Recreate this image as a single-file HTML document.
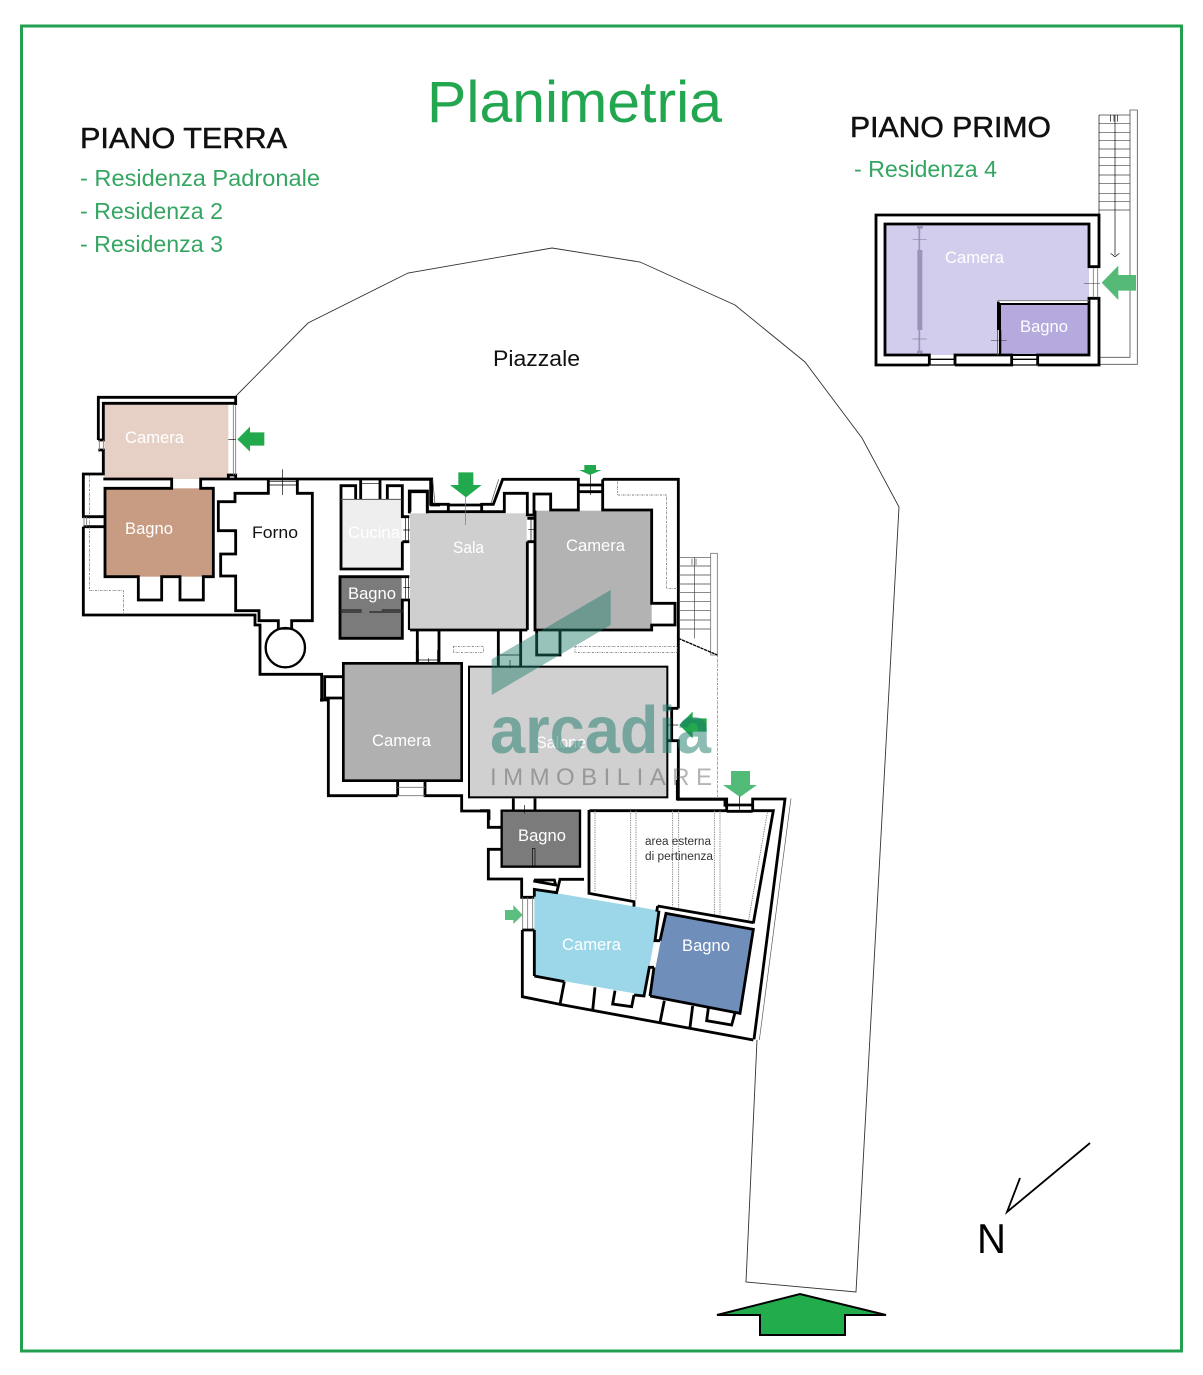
<!DOCTYPE html>
<html><head><meta charset="utf-8"><style>
html,body{margin:0;padding:0;background:#fff}
svg{display:block}
text{font-family:"Liberation Sans",sans-serif}
.w{fill:none;stroke:#000;stroke-width:8.500;stroke-linejoin:miter}
.g{fill:none;stroke:#777;stroke-width:2.5}
.k{fill:none;stroke:#000;stroke-width:2}
.d{fill:none;stroke:#555;stroke-width:2;stroke-dasharray:6 3 2 3}
.l{fill:#fff;font-size:17px}
</style></head><body>
<svg width="1203" height="1375" viewBox="0 0 1203 1375" xmlns="http://www.w3.org/2000/svg">
<rect width="1203" height="1375" fill="#fff"/>
<rect x="21.500" y="26" width="1160" height="1325" fill="none" stroke="#22a04f" stroke-width="3"/>

<text x="427" y="122" font-size="58" fill="#22a650" textLength="295" lengthAdjust="spacingAndGlyphs">Planimetria</text>
<text x="80" y="148" font-size="29" fill="#111" stroke="#111" stroke-width=".5" textLength="207" lengthAdjust="spacingAndGlyphs">PIANO TERRA</text>
<text x="850" y="137" font-size="29" fill="#111" stroke="#111" stroke-width=".5" textLength="201" lengthAdjust="spacingAndGlyphs">PIANO PRIMO</text>
<g fill="#35a562" font-size="23">
<text x="80" y="186" textLength="240" lengthAdjust="spacingAndGlyphs">- Residenza Padronale</text>
<text x="80" y="219" textLength="143" lengthAdjust="spacingAndGlyphs">- Residenza 2</text>
<text x="80" y="252" textLength="143" lengthAdjust="spacingAndGlyphs">- Residenza 3</text>
<text x="854" y="177" textLength="143" lengthAdjust="spacingAndGlyphs">- Residenza 4</text>
</g>
<text x="493" y="366" font-size="22" fill="#111" textLength="87" lengthAdjust="spacingAndGlyphs">Piazzale</text>

<!-- site outline -->
<path d="M235,397 L308,323 L408,273 L552,248 L640,262 L735,305 L805,362 L862,438 L899,507 L856,1292 L746,1282 L757,1040" fill="none" stroke="#333" stroke-width=".9"/>

<!-- west wing -->
<g transform="translate(70 380) scale(.33333)">
<rect x="103" y="70" width="372" height="227" fill="#e6d0c5"/>
<rect x="105" y="325" width="325" height="265" fill="#c89c82"/>
<rect x="813" y="358" width="182" height="209" fill="#eeeeee"/>
<rect x="812" y="593" width="183" height="180" fill="#7b7b7b"/>
<path class="w" d="M85,180 V52 H497 V75 M85,180 H100 V70 H497"/>
<path class="w" d="M85,210 H100 V282 H40 V410 H105 M40,440 H105 M40,440 V705 H555 V735 H570 V883 H755 V965"/>
<path class="w" d="M100,297 H305 V325 H105 V590 H205 V660 H275 V590 H330 V660 H400 V590 H430 V325 H392 V297 H1085 V375 H1110 M595,297 V340 H495 V365 H445 V452 H497 V522 H452 V588 H497 V692 H567 V722 H625 V748 M665,748 V722 H727 V340 H682 V297"/>
<path class="w" d="M475,297 V285 H497 V297"/>
<circle cx="646" cy="803" r="59" fill="#fff" stroke="#000" stroke-width="7"/>
<path class="k" d="M625,748 H665"/>
<path class="g" d="M490,75 V285 M497,75 V285 M88,180 V210 M100,180 V210 M42,410 V440 M50,410 V440"/>
<path class="k" d="M475,178 H497 M637,268 V345 M595,305 H682 M595,315 H682"/>
<path class="d" d="M58,285 V632 H160 V700"/>
<!-- kitchen / bath -->
<path class="w" d="M813,358 V317 H857 V357 M872,357 V300 M930,357 V300 M952,357 V317 H997 V410 H1018 M997,485 H1018 M997,485 V567 H813 V358"/>
<path d="M813,358 H995" stroke="#555" stroke-width="3"/>
<path class="k" d="M872,310 H930"/>
<path class="w" d="M1018,400 V333 H1072 V400"/>
<path class="w" d="M997,590 H810 V775 H997 V660 H1018 V750 M1018,590 H997"/>
<path d="M810,690 H875 M810,696 H875 M898,696 H1000 M935,690 H1000" fill="none" stroke="#222" stroke-width="4"/>
<path class="k" d="M1000,450 H1022 M1000,622 H1022 M1006,410 V485 M1015,410 V485 M1006,590 V655 M1015,590 V655"/>
</g>

<!-- central wing -->
<g transform="translate(400 460) scale(.33333)">
<rect x="30" y="160" width="350" height="350" fill="#cfcfcf"/>
<rect x="405" y="152" width="350" height="358" fill="#b3b3b3"/>
<rect x="207" y="620" width="595" height="392" fill="#d0d0d0"/>
<path class="w" d="M608,58 H835 V745 M608,58 V150 H755 V430 H825 V495 H755 V510 H405 V152"/>
<path class="k" d="M571,40 V105"/>
<path class="w" d="M535,75 H608 M535,95 H608"/>
<path class="w" d="M382,245 V510 M30,510 H382 M405,245 H382 M405,175 H382"/>
<path class="k" d="M385,208 H402 M393,175 V245"/>
<path class="w" d="M52,510 V605 M117,510 V605 M295,510 V618 M362,510 V618 M410,510 V585 H480 V510"/>
<path class="k" d="M295,585 H362 M330,600 V625 M52,600 H117 M85,595 V620"/>
<rect x="207" y="620" width="595" height="392" fill="none" stroke="#000" stroke-width="6"/>
<path class="w" d="M802,745 H835 M802,842 H835 V1018 H975 V1040 M815,745 V842"/>
<path class="k" d="M800,795 H835"/>
<!-- stairs -->
<path d="M836,292 H932 M836,318 H932 M836,345 H932 M836,372 H932 M836,398 H932 M836,425 H932 M836,452 H932 M836,480 H932 M836,507 H932 M884,292 V535 M876,296 V315 M888,296 V315" fill="none" stroke="#444" stroke-width="2"/>
<rect x="932" y="280" width="20" height="305" fill="#fff" stroke="#777" stroke-width="2.500"/>
<path d="M835,535 L952,585" fill="none" stroke="#000" stroke-width="4" stroke-dasharray="10 2"/>
<path class="d" d="M952,585 V1010"/>
<path class="d" d="M652,65 V105 H800 V385 H832"/>
<rect class="d" x="160" y="560" width="90" height="17"/>
<rect class="d" x="525" y="560" width="307" height="17"/>
</g>

<!-- top of Sala / Camera -->
<g transform="translate(410 470) scale(.33333)">
<path class="w" d="M-30,28 H62 V103 H115 V125 H215 V103 H250 L278,28 H505 V120 H422 V72 H372 V135 H352 V70 H283 V125 H215 M115,125 H52 V65 H0 V125 M115,105 H215"/>
<path d="M68,28 L75,103 M266,28 L243,100" fill="none" stroke="#444" stroke-width="2"/>
<path d="M166,80 V165" stroke="#777" stroke-width="2" fill="none"/>
</g>

<!-- Camera centre-left -->
<g transform="translate(320 650) scale(.33333)">
<rect x="70" y="40" width="355" height="352" fill="#b0b0b0" stroke="#000" stroke-width="8"/>
<path class="w" d="M70,80 H14 V144 H70 M0,150 H25 V437 H233 M233,392 V437 M315,392 V437 H425 V483 H507 V510"/>
<path class="g" d="M233,412 H315 M233,437 H315"/>
<path class="w" d="M292,40 V0 M356,40 V0"/>
</g>

<!-- south wing upper -->
<g transform="translate(480 780) scale(.33333)">
<rect x="65" y="92" width="235" height="168" fill="#7b7b7b" stroke="#000" stroke-width="7"/>
<path class="k" d="M157,205 V260 M165,205 V260 M157,205 H165"/>
<path class="w" d="M100,55 V90 M165,55 V90 M0,92 H25 V142 H65 M65,208 H25 V297 H125 V352 H163"/>
<path class="k" d="M133,75 V100"/>
<path class="w" d="M592,0 V57 H740 V92 M818,92 V57 H915 L822,778 M740,75 H818 M740,94 H818 M328,92 H740 M818,92 H880 L820,430"/>
<path class="k" d="M778,40 V92"/>
<path class="g" d="M345,92 V335 M452,92 V360 M468,92 V360 M578,92 V380 M596,92 V385 M703,92 V405 M720,92 V408 M862,98 L805,425" stroke-dasharray="4 3"/>
<path class="g" d="M128,352 V450 M143,352 V450 M158,352 V450"/>
<path d="M933,55 L838,780" fill="none" stroke="#555" stroke-width="2"/>
</g>

<!-- south wing lower -->
<g transform="translate(510 870) scale(.33333)">
<polygon points="73,58 447,122 432,215 418,290 402,375 73,318" fill="#9bd7e8"/>
<polygon points="468,130 730,178 690,430 420,378" fill="#6f8fba"/>
<path class="w" d="M37,180 H73 M37,180 V380 L150,403 L163,335 M73,318 L163,335 M73,318 V180 M73,80 V58 L140,68 L150,28 H222 M70,33 L137,45 L133,30 L72,30"/>
<path class="w" d="M237,-180 V70 L372,95 V110"/>
<path class="w" d="M150,403 L730,510 M255,352 L248,422 M315,362 L308,402 L365,410 L372,375 M372,375 L402,378 L418,292 H432 M447,122 L435,212 H450 M463,392 L450,458 M548,408 L540,472 M595,415 L590,452 L665,465 L675,428"/>
<path class="w" d="M420,378 L690,430 L730,178 L468,130 L450,212 M420,378 L432,292 M443,108 L440,125 M443,108 L730,158"/>
</g>
<text x="645" y="845" font-size="11.500" fill="#333" textLength="66" lengthAdjust="spacingAndGlyphs">area esterna</text>
<text x="645" y="860" font-size="11.500" fill="#333" textLength="68" lengthAdjust="spacingAndGlyphs">di pertinenza</text>

<!-- first floor -->
<g transform="translate(860 100) scale(.33333)">
<path d="M75,372 H687 V602 H415 V765 H75 Z" fill="#d2cdec"/>
<rect x="420" y="612" width="267" height="153" fill="#b5a9de"/>
<path d="M717,45 H810 M717,70 H810 M717,97 H810 M717,122 H810 M717,147 H810 M717,172 H810 M717,197 H810 M717,225 H810 M717,250 H810 M717,280 H810 M717,305 H810 M717,330 H810" fill="none" stroke="#444" stroke-width="2"/>
<path d="M717,45 V345 M765,45 V465 M752,460 L765,470 L778,460 M752,45 V65 M762,45 V65 M772,45 V65" fill="none" stroke="#000" stroke-width="2"/>
<path d="M810,45 V30 H832 V793 H717 M810,45 V772 H717" fill="none" stroke="#555" stroke-width="2.500"/>
<path class="w" d="M208,795 H48 V345 H717 V500 H687 V372 H75 V765 H208 V795 M285,795 V765 H455 V795 H285 M533,795 V765 H687 V595 H717 V795 H533"/>
<path class="w" d="M208,778 H285 M208,795 H285 M455,778 H533 M455,795 H533" style="stroke-width:4"/>
<path class="g" d="M700,505 V592 M713,505 V592 M412,602 H687"/>
<path d="M415,605 V690" stroke="#000" stroke-width="8" fill="none"/>
<path d="M413,690 V765 M423,690 V765" stroke="#555" stroke-width="3" fill="none"/>
<path d="M393,722 H440 M672,550 H720" stroke="#333" stroke-width="1.500" fill="none"/>
<rect x="420" y="612" width="267" height="153" fill="none" stroke="#000" stroke-width="6"/>
<path d="M178,380 V762" stroke="#9a94b8" stroke-width="5" fill="none"/>
<rect x="172" y="450" width="15" height="240" fill="#9a94b8"/>
<rect x="171" y="378" width="17" height="8" fill="#9a94b8"/>
<rect x="171" y="752" width="17" height="8" fill="#9a94b8"/>
<path d="M158,418 H200 M158,717 H200" stroke="#8a86a8" stroke-width="2" fill="none"/>
</g>

<!-- green arrows -->
<g transform="translate(70 380) scale(.33333)"><path d="M502,178 L540,140 V157 H583 V197 H540 V215 Z" fill="#22a84d"/></g>
<g transform="translate(400 460) scale(.33333)">
<path d="M175,37 H220 V75 H245 L198,112 L150,75 H175 Z" fill="#22a84d"/>
<path d="M553,15 H588 V30 H605 L570,45 L537,30 H553 Z" fill="#22a84d"/>
<path d="M838,795 L878,755 V775 H920 V815 H878 V835 Z" fill="#22a84d"/>
</g>
<path d="M731,771 H750 V785 H757 L740,797 L723,785 H731 Z" fill="#53bb78"/>
<g transform="translate(480 780) scale(.33333)"><path d="M75,390 H100 V375 L128,405 L100,432 V420 H75 Z" fill="#5cbf80"/></g>
<g transform="translate(860 100) scale(.33333)"><path d="M725,548 L775,497 V525 H828 V572 H775 V600 Z" fill="#55ba78"/></g>
<path d="M717,1315 L800,1294 L886,1315 H845 V1335 H760 V1315 Z" fill="#22ac4c" stroke="#000" stroke-width="2"/>

<!-- room labels -->
<text class="l" x="125" y="443" textLength="59" lengthAdjust="spacingAndGlyphs">Camera</text>
<text class="l" x="125" y="534" textLength="48" lengthAdjust="spacingAndGlyphs">Bagno</text>
<text x="252" y="538" font-size="17" fill="#111" textLength="46" lengthAdjust="spacingAndGlyphs">Forno</text>
<text class="l" x="348" y="538" textLength="52" lengthAdjust="spacingAndGlyphs">Cucina</text>
<text class="l" x="348" y="599" textLength="48" lengthAdjust="spacingAndGlyphs">Bagno</text>
<text class="l" x="453" y="553" textLength="31" lengthAdjust="spacingAndGlyphs">Sala</text>
<text class="l" x="566" y="551" textLength="59" lengthAdjust="spacingAndGlyphs">Camera</text>
<text class="l" x="372" y="746" textLength="59" lengthAdjust="spacingAndGlyphs">Camera</text>
<text class="l" x="536" y="748" textLength="50" lengthAdjust="spacingAndGlyphs">Salone</text>
<text class="l" x="518" y="841" textLength="48" lengthAdjust="spacingAndGlyphs">Bagno</text>
<text class="l" x="562" y="950" textLength="59" lengthAdjust="spacingAndGlyphs">Camera</text>
<text class="l" x="682" y="951" textLength="48" lengthAdjust="spacingAndGlyphs">Bagno</text>
<text class="l" x="945" y="263" textLength="59" lengthAdjust="spacingAndGlyphs">Camera</text>
<text class="l" x="1020" y="332" textLength="48" lengthAdjust="spacingAndGlyphs">Bagno</text>

<!-- north -->
<path d="M1090,1143 L1007,1212 L1020,1178" fill="none" stroke="#000" stroke-width="1.800"/>
<text x="977" y="1253" font-size="42" fill="#000" textLength="29" lengthAdjust="spacingAndGlyphs">N</text>

<!-- watermark -->
<polygon points="491.700,659.300 610.700,590 610.700,625 491.700,695" fill="#1a7a68" fill-opacity=".45"/>
<text x="490" y="753" font-size="67" font-weight="700" fill="#1a7a68" fill-opacity=".5" textLength="221" lengthAdjust="spacingAndGlyphs">arcadia</text>
<text x="490" y="785" font-size="24" fill="#444" fill-opacity=".4" textLength="222">IMMOBILIARE</text>
</svg>
</body></html>
